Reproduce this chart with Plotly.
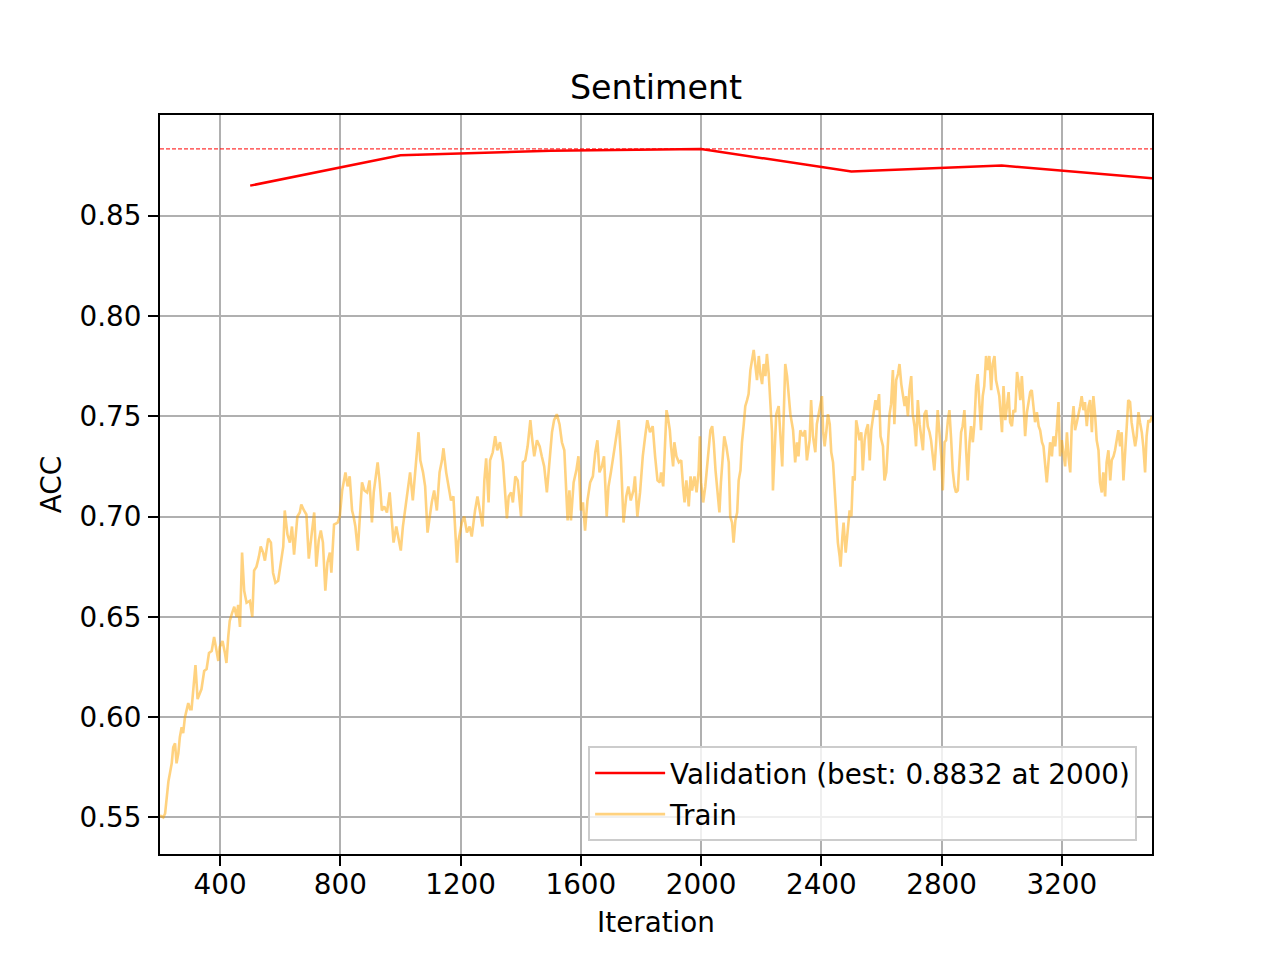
import plotly.graph_objects as go

val_iter = [500, 1000, 1500, 2000, 2500, 3000, 3500]
val_acc = [0.8649, 0.8800, 0.8823, 0.8832, 0.8719, 0.8749, 0.8686]
best_acc = 0.8832
best_iter = 2000

train_iter = [
    200, 211, 217, 222, 228, 233, 239, 244, 250, 255, 261, 266, 272, 277, 283, 294, 300, 305, 311, 318,
    325, 333, 338, 347, 355, 363, 372, 380, 388, 394, 399, 408, 416, 421, 427, 432, 440, 447, 455, 460,
    466, 473, 480, 488, 499, 507, 513, 521, 529, 535, 543, 549, 560, 569, 576, 584, 593, 602, 610, 615,
    624, 632, 639, 646, 657, 665, 670, 679, 687, 695, 704, 713, 720, 728, 735, 742, 750, 757, 765, 770,
    779, 791, 798, 806, 817, 824, 831, 839, 844, 850, 858, 864, 872, 880, 889, 897, 905, 911, 920, 924,
    931, 938, 946, 955, 964, 972, 977, 986, 994, 1001, 1008, 1016, 1024, 1032, 1041, 1049, 1055, 1060, 1066, 1075,
    1082, 1090, 1097, 1104, 1112, 1121, 1130, 1138, 1143, 1152, 1160, 1168, 1176, 1182, 1188, 1193, 1204, 1212, 1221, 1230,
    1237, 1248, 1256, 1265, 1273, 1279, 1285, 1293, 1298, 1307, 1315, 1322, 1331, 1341, 1349, 1354, 1360, 1368, 1374, 1382,
    1390, 1396, 1401, 1407, 1415, 1423, 1432, 1437, 1445, 1454, 1463, 1470, 1478, 1487, 1496, 1504, 1511, 1520, 1529, 1537,
    1545, 1551, 1556, 1562, 1567, 1576, 1585, 1592, 1600, 1607, 1614, 1622, 1631, 1640, 1648, 1655, 1662, 1670, 1677, 1686,
    1692, 1700, 1708, 1717, 1726, 1733, 1742, 1751, 1758, 1766, 1775, 1780, 1788, 1797, 1806, 1814, 1821, 1830, 1839, 1847,
    1855, 1863, 1867, 1874, 1878, 1885, 1889, 1896, 1900, 1907, 1911, 1918, 1926, 1934, 1940, 1945, 1951, 1959, 1965, 1970,
    1978, 1985, 1992, 1996, 2000, 2007, 2014, 2022, 2031, 2037, 2042, 2048, 2053, 2061, 2066, 2073, 2077, 2084, 2092, 2097,
    2103, 2108, 2114, 2120, 2125, 2131, 2136, 2142, 2147, 2153, 2158, 2164, 2169, 2175, 2180, 2186, 2192, 2197, 2203, 2208,
    2214, 2219, 2225, 2230, 2236, 2239, 2245, 2250, 2258, 2263, 2270, 2275, 2280, 2286, 2291, 2297, 2306, 2313, 2319, 2324,
    2330, 2339, 2346, 2352, 2361, 2366, 2372, 2380, 2385, 2394, 2402, 2406, 2411, 2417, 2422, 2428, 2433, 2439, 2444, 2450,
    2455, 2461, 2464, 2470, 2474, 2481, 2489, 2494, 2500, 2505, 2511, 2516, 2522, 2527, 2533, 2538, 2544, 2549, 2555, 2561,
    2566, 2574, 2580, 2585, 2592, 2597, 2605, 2610, 2616, 2621, 2627, 2632, 2638, 2643, 2649, 2655, 2660, 2666, 2671, 2677,
    2682, 2688, 2693, 2699, 2704, 2710, 2715, 2721, 2727, 2732, 2738, 2743, 2749, 2754, 2760, 2765, 2771, 2776, 2782, 2787,
    2799, 2804, 2810, 2815, 2821, 2826, 2832, 2837, 2843, 2848, 2854, 2860, 2865, 2870, 2876, 2882, 2887, 2893, 2898, 2904,
    2909, 2915, 2920, 2926, 2931, 2937, 2942, 2948, 2954, 2959, 2965, 2970, 2976, 2981, 2987, 2992, 3001, 3006, 3012, 3017,
    3023, 3028, 3034, 3039, 3045, 3051, 3056, 3062, 3067, 3073, 3078, 3084, 3089, 3095, 3100, 3106, 3111, 3117, 3123, 3128,
    3134, 3139, 3145, 3150, 3156, 3161, 3167, 3172, 3178, 3183, 3189, 3194, 3200, 3206, 3211, 3217, 3222, 3228, 3233, 3239,
    3244, 3250, 3255, 3261, 3266, 3272, 3277, 3283, 3289, 3294, 3300, 3305, 3311, 3316, 3322, 3327, 3333, 3338, 3344, 3349,
    3355, 3361, 3366, 3372, 3377, 3383, 3388, 3394, 3399, 3405, 3410, 3416, 3421, 3427, 3432, 3438, 3444, 3449, 3455, 3460,
    3466, 3471, 3477, 3482, 3488, 3493, 3500,
]

train_acc = [
    0.551, 0.550, 0.552, 0.560, 0.568, 0.572, 0.577, 0.585, 0.587, 0.577, 0.582, 0.590, 0.595, 0.592, 0.600, 0.607, 0.604, 0.604, 0.615, 0.626,
    0.609, 0.612, 0.614, 0.623, 0.624, 0.632, 0.633, 0.640, 0.632, 0.628, 0.635, 0.638, 0.632, 0.627, 0.640, 0.648, 0.652, 0.655, 0.650, 0.656,
    0.645, 0.682, 0.663, 0.657, 0.658, 0.650, 0.673, 0.675, 0.680, 0.685, 0.682, 0.678, 0.689, 0.687, 0.672, 0.667, 0.668, 0.677, 0.685, 0.703,
    0.691, 0.687, 0.695, 0.681, 0.700, 0.702, 0.706, 0.703, 0.701, 0.679, 0.692, 0.702, 0.675, 0.688, 0.693, 0.687, 0.663, 0.677, 0.682, 0.672,
    0.696, 0.697, 0.700, 0.713, 0.722, 0.715, 0.720, 0.703, 0.700, 0.695, 0.683, 0.700, 0.717, 0.713, 0.712, 0.718, 0.697, 0.712, 0.722, 0.727,
    0.717, 0.703, 0.705, 0.702, 0.712, 0.698, 0.687, 0.695, 0.688, 0.683, 0.695, 0.705, 0.712, 0.722, 0.708, 0.725, 0.733, 0.742, 0.728, 0.722,
    0.715, 0.692, 0.700, 0.707, 0.713, 0.703, 0.722, 0.728, 0.734, 0.722, 0.715, 0.708, 0.710, 0.695, 0.677, 0.688, 0.697, 0.700, 0.692, 0.695,
    0.690, 0.703, 0.710, 0.702, 0.695, 0.718, 0.729, 0.707, 0.728, 0.732, 0.740, 0.733, 0.737, 0.727, 0.708, 0.699, 0.710, 0.712, 0.707, 0.720,
    0.718, 0.707, 0.700, 0.727, 0.728, 0.735, 0.748, 0.740, 0.730, 0.738, 0.735, 0.730, 0.725, 0.712, 0.730, 0.742, 0.748, 0.751, 0.746, 0.737,
    0.733, 0.715, 0.698, 0.713, 0.698, 0.717, 0.723, 0.730, 0.703, 0.707, 0.693, 0.708, 0.717, 0.720, 0.732, 0.738, 0.722, 0.725, 0.730, 0.700,
    0.715, 0.722, 0.730, 0.738, 0.748, 0.730, 0.697, 0.710, 0.715, 0.708, 0.713, 0.720, 0.700, 0.712, 0.730, 0.740, 0.748, 0.742, 0.745, 0.730,
    0.718, 0.717, 0.722, 0.715, 0.730, 0.753, 0.750, 0.743, 0.735, 0.725, 0.737, 0.730, 0.727, 0.728, 0.715, 0.707, 0.718, 0.705, 0.720, 0.713,
    0.720, 0.712, 0.723, 0.740, 0.717, 0.707, 0.715, 0.727, 0.743, 0.745, 0.737, 0.723, 0.715, 0.702, 0.717, 0.730, 0.740, 0.735, 0.727, 0.700,
    0.697, 0.687, 0.698, 0.702, 0.718, 0.723, 0.737, 0.746, 0.755, 0.758, 0.761, 0.773, 0.778, 0.783, 0.776, 0.768, 0.780, 0.771, 0.766, 0.776,
    0.770, 0.781, 0.771, 0.756, 0.742, 0.713, 0.738, 0.751, 0.755, 0.743, 0.725, 0.751, 0.776, 0.770, 0.761, 0.751, 0.743, 0.727, 0.737, 0.730,
    0.743, 0.740, 0.743, 0.728, 0.738, 0.758, 0.740, 0.732, 0.746, 0.753, 0.760, 0.742, 0.735, 0.743, 0.751, 0.746, 0.732, 0.727, 0.713, 0.700,
    0.687, 0.680, 0.675, 0.690, 0.697, 0.682, 0.697, 0.703, 0.700, 0.720, 0.718, 0.748, 0.743, 0.738, 0.742, 0.723, 0.738, 0.743, 0.746, 0.728,
    0.743, 0.751, 0.758, 0.753, 0.761, 0.740, 0.735, 0.718, 0.722, 0.735, 0.751, 0.756, 0.773, 0.746, 0.768, 0.771, 0.776, 0.766, 0.761, 0.755,
    0.760, 0.750, 0.763, 0.770, 0.751, 0.745, 0.735, 0.758, 0.746, 0.740, 0.733, 0.751, 0.753, 0.745, 0.742, 0.738, 0.730, 0.723, 0.737, 0.753,
    0.730, 0.713, 0.737, 0.738, 0.748, 0.753, 0.738, 0.723, 0.715, 0.712, 0.713, 0.730, 0.742, 0.745, 0.753, 0.732, 0.718, 0.737, 0.745, 0.737,
    0.746, 0.765, 0.771, 0.756, 0.743, 0.760, 0.765, 0.780, 0.773, 0.780, 0.763, 0.776, 0.780, 0.768, 0.763, 0.760, 0.742, 0.765, 0.748, 0.755,
    0.762, 0.747, 0.745, 0.753, 0.752, 0.772, 0.767, 0.758, 0.770, 0.755, 0.740, 0.752, 0.757, 0.762, 0.763, 0.755, 0.747, 0.752, 0.745, 0.743,
    0.737, 0.735, 0.725, 0.717, 0.728, 0.737, 0.730, 0.740, 0.735, 0.743, 0.757, 0.730, 0.738, 0.730, 0.725, 0.742, 0.730, 0.722, 0.745, 0.755,
    0.743, 0.747, 0.750, 0.755, 0.760, 0.753, 0.757, 0.745, 0.755, 0.758, 0.742, 0.760, 0.750, 0.738, 0.733, 0.717, 0.712, 0.722, 0.710, 0.727,
    0.733, 0.718, 0.728, 0.730, 0.733, 0.738, 0.743, 0.735, 0.742, 0.718, 0.733, 0.745, 0.758, 0.757, 0.747, 0.742, 0.735, 0.740, 0.752, 0.747,
    0.742, 0.735, 0.722, 0.740, 0.748, 0.747, 0.750,
]

x_ticks = [400, 800, 1200, 1600, 2000, 2400, 2800, 3200]
y_ticks = [0.55, 0.60, 0.65, 0.70, 0.75, 0.80, 0.85]

FONT = "DejaVu Sans"

fig = go.Figure()
fig.add_trace(go.Scatter(
    x=val_iter, y=val_acc, mode="lines",
    line=dict(color="red", width=2.5),
    name=f"Validation (best: {best_acc:.4f} at {best_iter})",
    legendgroup="val",
))
fig.add_trace(go.Scatter(
    x=train_iter, y=train_acc, mode="lines",
    line=dict(color="rgba(255,165,0,0.5)", width=2.6),
    name="Train",
    legendgroup="train",
))
fig.add_hline(y=best_acc, line=dict(color="red", width=1, dash="4px,2px"))

axis_common = dict(
    showline=True, linecolor="black", linewidth=2, mirror=True,
    showgrid=True, gridcolor="#b0b0b0", gridwidth=2,
    ticks="outside", ticklen=10, tickwidth=2, tickcolor="black",
    tickfont=dict(family=FONT, size=27.8, color="black"),
    zeroline=False,
)

fig.update_layout(
    width=1280, height=960,
    margin=dict(l=160, r=128, t=115, b=106),
    paper_bgcolor="white", plot_bgcolor="white",
    font=dict(family=FONT, color="black"),
    title=dict(text="Sentiment", x=0.5125, xanchor="center", y=1 - 99 / 960, yanchor="bottom",
               yref="container", font=dict(family=FONT, size=33.3, color="black")),
    xaxis=dict(range=[200, 3500], tickvals=x_ticks,
               title=dict(text="Iteration", font=dict(family=FONT, size=27.8), standoff=12),
               ticklabelstandoff=-5, **axis_common),
    yaxis=dict(range=[0.5318, 0.9001], tickvals=y_ticks, tickformat=".2f",
               title=dict(text="ACC", font=dict(family=FONT, size=27.8), standoff=10),
               ticklabelstandoff=1, **axis_common),
    legend=dict(x=0.985, y=0.017, xanchor="right", yanchor="bottom",
                bgcolor="rgba(255,255,255,0.8)", bordercolor="#cccccc", borderwidth=2,
                itemwidth=70, tracegroupgap=2,
                font=dict(family=FONT, size=27.8, color="black")),
    showlegend=True,
)

fig.write_html("out.html")
